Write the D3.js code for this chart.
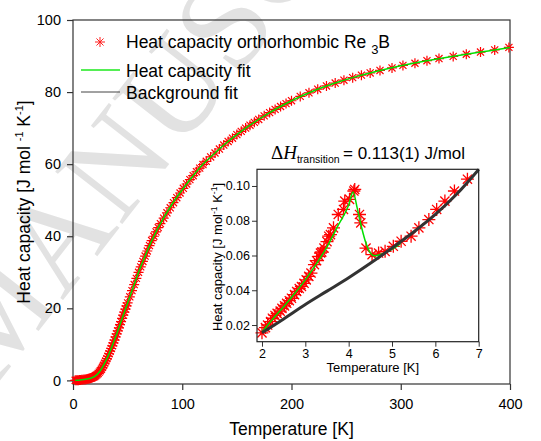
<!DOCTYPE html>
<html>
<head>
<meta charset="utf-8">
<script src="https://cdn.jsdelivr.net/npm/d3@7"></script>
<style>
  body { margin: 0; background: #fff; }
  svg { display: block; font-family: "Liberation Sans", Arial, sans-serif; }
</style>
</head>
<body>
<div id="chart"></div>
<script>
// main curve: measured points, temperature [K] and heat capacity [J/mol/K]
const mainT = [2,3,4,5,6,7,8,9,10,11,12,13,14,15,16,17,18,19,20,21,22,23,24,25,26,27,28,29,30,
  31,32,33,34,35,36,37,38,39,40,41,42,43,44,45,46,47,48,49,50,52,54,56,58,60,62,64,66,68,70,
  72,74,76,78,80,83,86,89,92,95,98,101,104,107,110,113,116,119,122,126,130,134,138,142,146,150,
  154,158,162,166,170,175,180,185,190,195,200,208,216,224,232,240,248,256,264,272,281,292,302,
  313,324,335,348,360,373,386,399];
const mainCp = [0.02,0.03,0.05,0.07,0.09,0.12,0.15,0.18,0.22,0.27,0.32,0.38,0.45,0.53,0.62,0.72,
  0.84,0.96,1.1,1.34,1.6,1.93,2.3,2.68,3.1,3.63,4.2,4.8,5.4,6.05,6.7,7.4,8.1,8.85,9.6,10.4,11.2,
  12.05,12.9,13.75,14.6,15.45,16.3,17.2,18.1,18.95,19.8,20.65,21.5,23.2,24.9,26.6,28.3,30.0,31.5,
  33.0,34.5,35.9,37.4,38.8,40.0,41.2,42.4,43.5,45.0,46.5,47.9,49.3,50.7,52.0,53.3,54.5,55.7,56.8,
  57.9,58.9,59.9,60.8,62.0,63.1,64.2,65.3,66.3,67.2,68.2,69.1,70.0,70.8,71.6,72.4,73.4,74.3,75.2,
  76.0,76.8,77.6,78.8,79.8,80.8,81.7,82.5,83.3,84.0,84.7,85.3,86.0,86.7,87.4,88.0,88.7,89.3,89.9,
  90.5,91.1,91.7,92.4];

// main fit
const fitT = [2,5,10,15,20,25,30,35,40,45,50,55,60,65,70,75,80,90,100,110,120,130,140,150,160,
  170,180,190,200,220,240,260,280,300,320,340,360,380,400];
const fitCp = [0.02,0.07,0.22,0.53,1.1,2.68,5.4,8.85,12.9,17.2,21.5,25.75,30.0,33.75,37.4,40.6,
  43.5,48.6,52.9,56.8,60.3,63.1,65.8,68.2,70.4,72.4,74.3,76.0,77.6,80.3,82.5,84.35,85.9,87.3,88.5,
  89.5,90.5,91.4,92.4];

// inset: low temperature points
const insetT = [2.00,2.08,2.13,2.20,2.24,2.30,2.35,2.42,2.46,2.52,2.57,2.63,2.68,2.75,2.80,2.86,
  2.91,2.97,3.02,3.08,3.13,3.21,3.26,3.32,3.35,3.38,3.43,3.50,3.54,3.58,3.65,3.76,3.88,3.91,4.02,
  4.12,4.14,4.25,4.28,4.40,4.54,4.69,4.84,5.03,5.21,5.44,5.62,5.85,6.03,6.22,6.44,6.74];
const insetCp = [0.0155,0.0185,0.020,0.022,0.0239,0.0255,0.0267,0.028,0.0296,0.031,0.0325,0.034,
  0.0354,0.0375,0.0393,0.041,0.0422,0.044,0.046,0.048,0.0499,0.0547,0.057,0.0595,0.0614,0.062,
  0.0643,0.068,0.0711,0.072,0.0759,0.0836,0.0865,0.0913,0.0923,0.0971,0.098,0.0836,0.0788,0.0643,
  0.0605,0.0614,0.0624,0.0653,0.0682,0.0711,0.0759,0.0807,0.0865,0.0913,0.0971,0.1039];

const insetFitT = [2.0,2.25,2.5,2.75,3.0,3.25,3.5,3.75,4.0,4.1,4.2,4.3,4.4,4.5,4.6,4.8,5.0,5.2];
const insetFitCp = [0.016,0.0235,0.0305,0.038,0.046,0.055,0.065,0.077,0.089,0.0965,0.087,0.076,
  0.067,0.0615,0.0598,0.0612,0.0635,0.067];

const bgT = [2.0,2.5,3.0,3.5,4.0,4.5,5.0,5.5,6.0,6.5,7.0];
const bgCp = [0.0155,0.0235,0.0318,0.0395,0.0472,0.0555,0.0643,0.0735,0.0836,0.0955,0.1095];

const xTicks = [0,100,200,300,400];
const yTicks = [0,20,40,60,80,100];
const ixTicks = [2,3,4,5,6,7];
const iyTicks = [0.02,0.04,0.06,0.08,0.10];

const width = 541, height = 441;
const svg = d3.select('#chart').append('svg')
  .attr('width', width)
  .attr('height', height);

// faint watermark, clipped to the picture
svg.append('clipPath').attr('id', 'page')
  .append('rect').attr('width', width).attr('height', height);
svg.append('g')
  .attr('clip-path', 'url(#page)')
  .append('text')
  .attr('transform', 'translate(-9,392) rotate(-52)')
  .style('font-family', '"Liberation Serif", serif')
  .style('font-size', '130px')
  .attr('fill', '#e2e2e2')
  .text('MANUSC');

// asterisk marker
function star(r) {
  const a = r * 0.707;
  return 'M' + (-r) + ',0L' + r + ',0M0,' + (-r) + 'L0,' + r +
    'M' + (-a) + ',' + (-a) + 'L' + a + ',' + a + 'M' + (-a) + ',' + a + 'L' + a + ',' + (-a);
}

// ---- main plot
const margin = {left: 73, right: 31, top: 20, bottom: 57};
const x = d3.scaleLinear().domain([0, 400]).range([margin.left, width - margin.right]);
const y = d3.scaleLinear().domain([-1, 100]).range([height - margin.bottom, margin.top]);

const gx = svg.append('g')
  .attr('transform', 'translate(0,' + y.range()[0] + ')');
gx.call(d3.axisBottom(x).tickValues([50,150,250,350]).tickSize(4).tickFormat(''));
gx.call(d3.axisBottom(x).tickValues(xTicks).tickSize(6).tickPadding(9).tickFormat(d3.format('d')))
gx.selectAll('.domain').remove();

const gy = svg.append('g')
  .attr('transform', 'translate(' + x.range()[0] + ',0)');
gy.call(d3.axisLeft(y).tickValues([10,30,50,70,90]).tickSize(4).tickFormat(''));
gy.call(d3.axisLeft(y).tickValues(yTicks).tickSize(6).tickPadding(6).tickFormat(d3.format('d')));
gy.selectAll('.domain').remove();

svg.selectAll('.tick text')
  .style('font-size', '14.5px')
  .attr('fill', '#000');
svg.selectAll('.tick line')
  .attr('stroke', '#333')
  .attr('stroke-width', 1.2);

svg.append('rect')
  .attr('x', x.range()[0])
  .attr('y', y.range()[1])
  .attr('width', x.range()[1] - x.range()[0])
  .attr('height', y.range()[0] - y.range()[1])
  .attr('fill', 'none')
  .attr('stroke', '#333')
  .attr('stroke-width', 1.2);

const mainPts = mainT.map((t, i) => [t, mainCp[i]]);
svg.append('g')
  .selectAll('path')
  .data(mainPts)
  .enter().append('path')
  .attr('d', star(5))
  .attr('transform', d => 'translate(' + x(d[0]) + ',' + y(d[1]) + ')')
  .attr('fill', 'none')
  .attr('stroke', '#ff0000')
  .attr('stroke-width', 1.2);

const fitLine = d3.line()
  .x(d => x(d[0]))
  .y(d => y(d[1]))
  .curve(d3.curveMonotoneX);
svg.append('path')
  .datum(fitT.map((t, i) => [t, fitCp[i]]))
  .attr('d', fitLine)
  .attr('fill', 'none')
  .attr('stroke', '#00e000')
  .attr('stroke-width', 1.5);

svg.append('text')
  .attr('x', (x.range()[0] + x.range()[1]) / 2)
  .attr('y', 435)
  .attr('text-anchor', 'middle')
  .style('font-size', '17.5px')
  .text('Temperature [K]');

const ytitle = svg.append('text')
  .attr('transform', 'translate(30,202) rotate(-90)')
  .attr('text-anchor', 'middle')
  .style('font-size', '17.5px');
ytitle.append('tspan').text('Heat capacity [J mol ');
ytitle.append('tspan').attr('dy', -7).style('font-size', '11px').text('-1');
ytitle.append('tspan').attr('dy', 7).text(' K');
ytitle.append('tspan').attr('dy', -7).style('font-size', '11px').text('-1');
ytitle.append('tspan').attr('dy', 7).text(']');

// legend
const legend = svg.append('g');
legend.append('path')
  .attr('d', star(5))
  .attr('transform', 'translate(100,42)')
  .attr('fill', 'none')
  .attr('stroke', '#ff2020')
  .attr('stroke-width', 1);
const l1 = legend.append('text')
  .attr('x', 126).attr('y', 48)
  .style('font-size', '17.5px');
l1.append('tspan').text('Heat capacity orthorhombic Re ');
l1.append('tspan').attr('dy', 6).style('font-size', '13px').text('3');
l1.append('tspan').attr('dy', -6).text('B');

legend.append('line')
  .attr('x1', 81).attr('x2', 120).attr('y1', 70).attr('y2', 70)
  .attr('stroke', '#55ee55').attr('stroke-width', 2);
legend.append('text')
  .attr('x', 126).attr('y', 77)
  .style('font-size', '17.5px')
  .text('Heat capacity fit');
legend.append('line')
  .attr('x1', 81).attr('x2', 120).attr('y1', 92).attr('y2', 92)
  .attr('stroke', '#444').attr('stroke-width', 1);
legend.append('text')
  .attr('x', 126).attr('y', 99)
  .style('font-size', '17.5px')
  .text('Background fit');

// ---- inset
const ix = d3.scaleLinear().domain([1.885, 7]).range([257, 478.7]);
const iy = d3.scaleLinear().domain([0.0104, 0.1096]).range([341.7, 169.3]);
const inset = svg.append('g');

inset.append('rect')
  .attr('x', ix.range()[0])
  .attr('y', iy.range()[1])
  .attr('width', ix.range()[1] - ix.range()[0])
  .attr('height', iy.range()[0] - iy.range()[1])
  .attr('fill', '#fff');

const igx = inset.append('g')
  .attr('transform', 'translate(0,' + iy.range()[0] + ')');
igx.call(d3.axisBottom(ix).tickValues([2.5,3.5,4.5,5.5,6.5]).tickSize(3).tickFormat(''));
igx.call(d3.axisBottom(ix).tickValues(ixTicks).tickSize(5).tickPadding(2).tickFormat(d3.format('d')));
igx.selectAll('.domain').remove();

const igy = inset.append('g')
  .attr('transform', 'translate(' + ix.range()[0] + ',0)');
igy.call(d3.axisLeft(iy).tickValues([0.03,0.05,0.07,0.09]).tickSize(3).tickFormat(''));
igy.call(d3.axisLeft(iy).tickValues(iyTicks).tickSize(5).tickPadding(2).tickFormat(d3.format('.2f')));
igy.selectAll('.domain').remove();

inset.selectAll('.tick text')
  .style('font-size', '12.5px')
  .attr('fill', '#000');
inset.selectAll('.tick line')
  .attr('stroke', '#333')
  .attr('stroke-width', 1);

const insetPts = insetT.map((t, i) => [t, insetCp[i]]);
inset.append('g')
  .selectAll('path')
  .data(insetPts)
  .enter().append('path')
  .attr('d', star(6.5))
  .attr('transform', d => 'translate(' + ix(d[0]) + ',' + iy(d[1]) + ')')
  .attr('fill', 'none')
  .attr('stroke', '#ff0000')
  .attr('stroke-width', 1.3);

const insetLine = d3.line()
  .x(d => ix(d[0]))
  .y(d => iy(d[1]))
  .curve(d3.curveMonotoneX);
inset.append('path')
  .datum(insetFitT.map((t, i) => [t, insetFitCp[i]]))
  .attr('d', insetLine)
  .attr('fill', 'none')
  .attr('stroke', '#00e000')
  .attr('stroke-width', 1.5);
inset.append('path')
  .datum(bgT.map((t, i) => [t, bgCp[i]]))
  .attr('d', insetLine)
  .attr('fill', 'none')
  .attr('stroke', '#333')
  .attr('stroke-width', 3);

inset.append('rect')
  .attr('x', ix.range()[0])
  .attr('y', iy.range()[1])
  .attr('width', ix.range()[1] - ix.range()[0])
  .attr('height', iy.range()[0] - iy.range()[1])
  .attr('fill', 'none')
  .attr('stroke', '#222')
  .attr('stroke-width', 1.2);

inset.append('text')
  .attr('x', (ix.range()[0] + ix.range()[1]) / 2 + 5)
  .attr('y', 372)
  .attr('text-anchor', 'middle')
  .style('font-size', '13px')
  .text('Temperature [K]');

const iyt = inset.append('text')
  .attr('transform', 'translate(222,257) rotate(-90)')
  .attr('text-anchor', 'middle')
  .style('font-size', '13px');
iyt.append('tspan').text('Heat capacity  [J mol');
iyt.append('tspan').attr('dy', -5).style('font-size', '8.5px').text('-1');
iyt.append('tspan').attr('dy', 5).text(' K');
iyt.append('tspan').attr('dy', -5).style('font-size', '8.5px').text('-1');
iyt.append('tspan').attr('dy', 5).text(']');

const title = inset.append('text')
  .attr('x', 271).attr('y', 159)
  .style('font-size', '17px');
title.append('tspan')
  .style('font-family', '"Liberation Serif", serif')
  .style('font-size', '19px')
  .text('\u0394');
title.append('tspan')
  .style('font-family', '"Liberation Serif", serif')
  .style('font-style', 'italic')
  .style('font-size', '19px')
  .text('H');
title.append('tspan')
  .attr('dy', 4)
  .style('font-size', '10.5px')
  .text('transition');
title.append('tspan')
  .attr('x', 343)
  .attr('dy', -4)
  .text('= 0.113(1) J/mol');
</script>
</body>
</html>
